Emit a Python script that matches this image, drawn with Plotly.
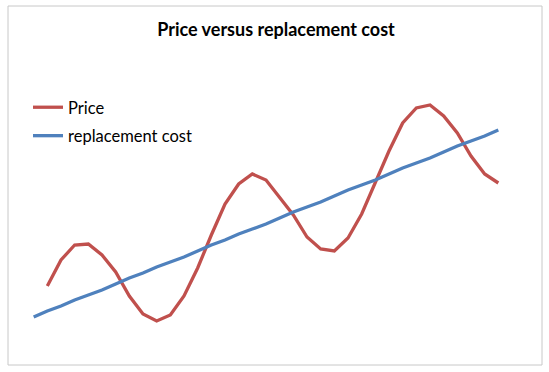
import plotly.graph_objects as go

# Data (arbitrary units)
periods = list(range(35))
price_periods = periods[1:]
price = [79, 105, 120, 121, 110, 93, 69, 51, 44, 50, 69, 97, 130, 161, 181, 191,
         185, 168, 150, 128, 116, 114, 127, 151, 183, 214, 242, 257, 260, 249,
         232, 209, 191, 182]
replacement_cost = [48, 54, 59, 65, 70, 75, 81, 87, 92, 98, 103, 108, 114, 120, 125,
                    131, 136, 141, 147, 153, 158, 163, 169, 175, 180, 185, 191, 197,
                    202, 207, 213, 219, 224, 229, 235]

RED = "#C0504D"
BLUE = "#4F81BD"
FONT = "Lato"

fig = go.Figure()
fig.add_trace(go.Scatter(x=price_periods, y=price, mode="lines", name="Price",
                         line=dict(color=RED, width=3.3), legendgroup="a"))
fig.add_trace(go.Scatter(x=periods, y=replacement_cost, mode="lines",
                         name="replacement cost",
                         line=dict(color=BLUE, width=3.3), legendgroup="b"))

L, R, T, B = 20, 37, 65, 7
W, H = 549, 372
pw = W - L - R
ph = H - T - B

def px2paper_x(px):
    return (px - L) / pw

def px2paper_y(py):
    return (H - B - py) / ph

fig.update_layout(
    width=W, height=H,
    margin=dict(l=L, r=R, t=T, b=B),
    paper_bgcolor="white", plot_bgcolor="white",
    font=dict(family=FONT, color="black"),
    title=dict(text="<b>Price versus replacement cost</b>", xref="container",
               x=276 / W, y=1 - 30 / H, xanchor="center", yanchor="middle",
               font=dict(family=FONT, size=18, color="black")),
    xaxis=dict(range=[-1, 35], visible=False),
    yaxis=dict(range=[0, 300], visible=False),
    showlegend=True,
    legend=dict(x=px2paper_x(28), y=px2paper_y(90), xanchor="left", yanchor="top",
                traceorder="grouped", tracegroupgap=4,
                font=dict(family=FONT, size=16.5, color="black"),
                bgcolor="rgba(0,0,0,0)"),
    shapes=[dict(type="rect", xref="paper", yref="paper",
                 x0=px2paper_x(8), x1=px2paper_x(542),
                 y0=px2paper_y(365), y1=px2paper_y(6),
                 line=dict(color="#c8c8c8", width=1), layer="below")],
)

fig.write_html("out.html")
